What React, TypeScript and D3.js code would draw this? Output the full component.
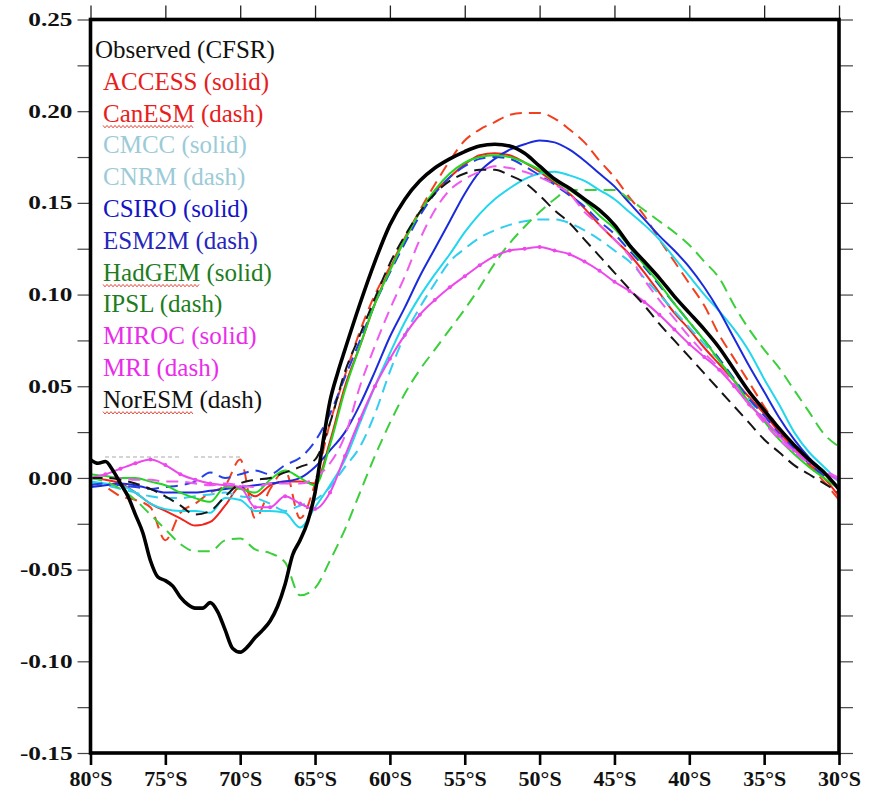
import React, { useEffect, useRef } from 'react';
import * as d3 from 'd3';

// latitude (degrees south) for the model curves
const lats = [80, 79, 78, 77, 76, 75, 74, 73, 72, 71, 70, 69, 68, 67, 66, 65, 64, 63, 62, 61, 60,
  59, 58, 57, 56, 55, 54, 53, 52, 51, 50, 49, 48, 47, 46, 45, 44, 43, 42, 41, 40,
  39, 38, 37, 36, 35, 34, 33, 32, 31, 30];

// observed curve is sampled finer over the ice edge
const obsLats = [80, 79.5, 79, 78.5, 78, 77.5, 77, 76.5, 76, 75.5, 75, 74.5, 74, 73.5, 73, 72.5, 72,
  71.5, 71, 70.5, 70, 69.5, 69, 68.5, 68, 67.5, 67, 66.5, 66, 65.5, 65, 64.5, 64, 63.5, 63,
  62, 61, 60, 59, 58, 57, 56, 55, 54, 53, 52, 51, 50, 49, 48, 47, 46, 45, 44, 43, 42, 41, 40,
  39, 38, 37, 36, 35, 34, 33, 32, 31, 30];

const observed = [0.010, 0.008, 0.009, 0.004, -0.003, -0.010, -0.020, -0.030, -0.045, -0.054, -0.056,
  -0.059, -0.065, -0.069, -0.071, -0.071, -0.068, -0.073, -0.083, -0.093, -0.095, -0.092, -0.087,
  -0.083, -0.078, -0.070, -0.058, -0.042, -0.034, -0.024, -0.008, 0.018, 0.042, 0.057, 0.070,
  0.095, 0.118, 0.138, 0.152, 0.162, 0.169, 0.174, 0.178, 0.181, 0.182, 0.181, 0.177, 0.170, 0.163,
  0.158, 0.152, 0.146, 0.138, 0.127, 0.118, 0.109, 0.099, 0.090, 0.081, 0.071, 0.059, 0.047, 0.037,
  0.027, 0.018, 0.010, 0.003, -0.006];

const access = [0.000, -0.001, -0.003, -0.008, -0.014, -0.018, -0.022, -0.026, -0.024, -0.015, -0.005,
  -0.010, -0.004, -0.002, -0.002, -0.003, 0.020, 0.050, 0.072, 0.095, 0.114, 0.130, 0.145, 0.156,
  0.164, 0.171, 0.176, 0.177, 0.176, 0.172, 0.167, 0.161, 0.155, 0.147, 0.138, 0.130, 0.122, 0.112,
  0.101, 0.090, 0.081, 0.071, 0.062, 0.053, 0.044, 0.035, 0.025, 0.016, 0.008, 0.000, -0.010];

const canesm = [-0.003, -0.005, -0.010, -0.012, -0.016, -0.034, -0.019, -0.014, -0.008, -0.004, 0.010,
  -0.022, -0.006, 0.004, -0.022, -0.003, 0.030, 0.056, 0.080, 0.100, 0.115, 0.131, 0.146, 0.160,
  0.173, 0.184, 0.190, 0.194, 0.198, 0.199, 0.199, 0.196, 0.190, 0.183, 0.173, 0.164, 0.153, 0.143,
  0.130, 0.118, 0.106, 0.094, 0.078, 0.065, 0.052, 0.039, 0.027, 0.016, 0.007, -0.002, -0.012];

const cmcc = [-0.002, -0.003, -0.004, -0.008, -0.014, -0.017, -0.018, -0.018, -0.019, -0.011, -0.012,
  -0.018, -0.018, -0.019, -0.027, -0.016, -0.004, 0.010, 0.030, 0.050, 0.068, 0.085, 0.099, 0.111,
  0.122, 0.134, 0.144, 0.152, 0.158, 0.163, 0.166, 0.167, 0.165, 0.162, 0.157, 0.152, 0.145, 0.138,
  0.130, 0.120, 0.110, 0.100, 0.091, 0.081, 0.069, 0.054, 0.040, 0.025, 0.014, 0.006, -0.002];

const cnrm = [-0.003, -0.004, -0.006, -0.008, -0.010, -0.011, -0.011, -0.010, -0.009, -0.008, -0.010,
  -0.011, -0.014, -0.018, -0.015, -0.012, -0.005, 0.006, 0.017, 0.035, 0.058, 0.078, 0.093, 0.106,
  0.118, 0.125, 0.131, 0.135, 0.138, 0.140, 0.141, 0.141, 0.139, 0.135, 0.130, 0.124, 0.118, 0.109,
  0.100, 0.091, 0.082, 0.073, 0.064, 0.053, 0.043, 0.032, 0.023, 0.015, 0.009, 0.004, -0.002];

const csiro = [-0.005, -0.004, -0.003, -0.004, -0.006, -0.008, -0.008, -0.008, -0.007, -0.006, -0.005,
  -0.004, -0.003, -0.002, 0.000, 0.006, 0.015, 0.025, 0.040, 0.058, 0.077, 0.093, 0.110, 0.125,
  0.140, 0.155, 0.167, 0.174, 0.179, 0.182, 0.184, 0.183, 0.179, 0.173, 0.166, 0.159, 0.150, 0.141,
  0.132, 0.124, 0.115, 0.104, 0.091, 0.076, 0.061, 0.047, 0.033, 0.021, 0.011, 0.003, -0.007];

const esm2m = [-0.004, -0.003, -0.004, -0.005, -0.006, -0.005, -0.004, -0.002, 0.003, 0.000, 0.002,
  0.004, 0.002, 0.007, 0.011, 0.020, 0.035, 0.055, 0.075, 0.095, 0.112, 0.128, 0.143, 0.155,
  0.164, 0.170, 0.174, 0.175, 0.174, 0.170, 0.165, 0.160, 0.154, 0.148, 0.140, 0.133, 0.124, 0.115,
  0.105, 0.095, 0.085, 0.075, 0.065, 0.054, 0.043, 0.034, 0.024, 0.016, 0.008, 0.001, -0.006];

const hadgem = [0.002, 0.001, 0.000, 0.000, -0.002, -0.004, -0.008, -0.011, -0.013, -0.005, -0.006,
  -0.008, -0.001, 0.004, 0.000, -0.004, 0.018, 0.048, 0.072, 0.095, 0.113, 0.130, 0.145, 0.157,
  0.166, 0.172, 0.175, 0.176, 0.175, 0.172, 0.168, 0.162, 0.157, 0.151, 0.143, 0.136, 0.126, 0.116,
  0.106, 0.095, 0.085, 0.075, 0.064, 0.053, 0.041, 0.031, 0.021, 0.013, 0.006, 0.000, -0.006];

const ipsl = [0.000, -0.002, -0.006, -0.012, -0.020, -0.028, -0.036, -0.040, -0.040, -0.034, -0.033,
  -0.039, -0.041, -0.046, -0.064, -0.060, -0.045, -0.028, -0.008, 0.012, 0.030, 0.046, 0.059, 0.070,
  0.081, 0.092, 0.104, 0.117, 0.128, 0.137, 0.145, 0.152, 0.157, 0.157, 0.157, 0.157, 0.152, 0.146,
  0.140, 0.134, 0.127, 0.118, 0.109, 0.094, 0.081, 0.070, 0.060, 0.048, 0.036, 0.024, 0.017];

const miroc = [0.000, 0.002, 0.005, 0.008, 0.010, 0.007, 0.002, -0.001, -0.003, -0.004, -0.005,
  -0.016, -0.016, -0.010, -0.014, -0.017, -0.008, 0.012, 0.032, 0.050, 0.065, 0.078, 0.089, 0.097,
  0.104, 0.110, 0.116, 0.121, 0.124, 0.125, 0.126, 0.124, 0.122, 0.118, 0.113, 0.107, 0.102, 0.096,
  0.089, 0.081, 0.073, 0.066, 0.059, 0.050, 0.040, 0.032, 0.023, 0.015, 0.009, 0.003, -0.001];

const mri = [0.000, 0.000, 0.000, -0.001, -0.001, -0.002, -0.002, -0.003, -0.004, -0.003, -0.004,
  -0.005, -0.003, -0.003, -0.003, 0.000, 0.008, 0.023, 0.050, 0.072, 0.092, 0.110, 0.130, 0.146,
  0.157, 0.163, 0.167, 0.170, 0.169, 0.167, 0.164, 0.160, 0.155, 0.145, 0.138, 0.130, 0.121, 0.108,
  0.097, 0.087, 0.077, 0.068, 0.060, 0.051, 0.040, 0.030, 0.021, 0.014, 0.008, 0.004, 0.000];

const noresm = [0.000, 0.000, -0.001, -0.003, -0.006, -0.010, -0.015, -0.020, -0.018, -0.010, -0.003,
  -0.001, 0.000, 0.003, 0.006, 0.010, 0.030, 0.058, 0.078, 0.098, 0.117, 0.132, 0.145, 0.155,
  0.162, 0.166, 0.168, 0.168, 0.165, 0.161, 0.154, 0.146, 0.139, 0.130, 0.121, 0.112, 0.103, 0.094,
  0.084, 0.075, 0.066, 0.057, 0.048, 0.039, 0.030, 0.021, 0.014, 0.007, 0.002, -0.003, -0.008];

const modelValues = [access, canesm, cmcc, cnrm, csiro, esm2m, hadgem, ipsl, miroc, mri, noresm];

const legendLabels = ['Observed (CFSR)', 'ACCESS (solid)', 'CanESM (dash)', 'CMCC (solid)', 'CNRM (dash)',
  'CSIRO (solid)', 'ESM2M (dash)', 'HadGEM (solid)', 'IPSL (dash)', 'MIROC (solid)', 'MRI (dash)',
  'NorESM (dash)'];

const yTicks = [-0.15, -0.125, -0.1, -0.075, -0.05, -0.025, 0, 0.025, 0.05, 0.075, 0.1, 0.125,
  0.15, 0.175, 0.2, 0.225, 0.25];
const xTicks = [80, 75, 70, 65, 60, 55, 50, 45, 40, 35, 30];

// styles per model (same order as modelValues)
const lineColors = ['#f2231a', '#f2401f', '#22d6ee', '#33cdf0', '#1b2bdc', '#2440e6', '#1fd81f',
  '#3ccf3c', '#ec48ec', '#ef5bef', '#151515'];
const lineDashed = [false, true, false, true, false, true, false, true, false, true, true];
const legendColors = ['#111111', '#e8201c', '#e8201c', '#9ccbd8', '#9ccbd8', '#1414c4', '#2626bd',
  '#1d7d1d', '#1d7d1d', '#ea2cea', '#ea2cea', '#111111'];
const squiggled = ['CanESM', 'HadGEM', 'NorESM'];

const SERIF = "'Liberation Serif'";

function App() {
  const ref = useRef<SVGSVGElement>(null);

  useEffect(() => {
    const W = 874, H = 792;
    const left = 90.5, right = 839, top = 19.5, bottom = 753;

    const svg = d3.select(ref.current);
    svg.selectAll('*').remove();

    const x = d3.scaleLinear().domain([80, 30]).range([left, right]);
    const y = d3.scaleLinear().domain([-0.15, 0.25]).range([bottom, top]);

    svg.append('rect').attr('width', W).attr('height', H).attr('fill', '#fff');

    svg.append('defs').append('clipPath').attr('id', 'plotclip')
      .append('rect').attr('x', left).attr('y', top)
      .attr('width', right - left).attr('height', bottom - top);

    const isMajor = (d: number) => Math.abs(d * 20 - Math.round(d * 20)) < 1e-6;

    // left axis with labels (bold serif, widened to match the original face)
    const gl = svg.append('g').attr('transform', `translate(${left},0)`)
      .call(d3.axisLeft(y).tickValues(yTicks).tickSize(13).tickPadding(5)
        .tickFormat((d: any) => isMajor(d) ? (+d).toFixed(2) : ''));
    gl.attr('font-family', null).attr('font-size', null);
    gl.select('.domain').remove();
    gl.selectAll('line').attr('stroke', '#444').attr('stroke-width', 1.2);
    gl.selectAll('text')
      .style('font-family', SERIF).style('font-weight', 'bold')
      .style('font-size', '19px').attr('fill', '#111')
      .each(function () {
        const node = this as SVGTextElement;
        if (!node.textContent) return;
        const w = node.getComputedTextLength() * 1.33;
        d3.select(node)
          .attr('text-anchor', 'start')
          .attr('x', -18 - w)
          .attr('textLength', w)
          .attr('lengthAdjust', 'spacingAndGlyphs');
      });

    const gr = svg.append('g').attr('transform', `translate(${right},0)`)
      .call(d3.axisRight(y).tickValues(yTicks).tickSize(14).tickFormat(() => ''));
    gr.select('.domain').remove();
    gr.selectAll('line').attr('stroke', '#444').attr('stroke-width', 1.2);

    const gt = svg.append('g').attr('transform', `translate(0,${top})`)
      .call(d3.axisTop(x).tickValues(xTicks).tickSize(14).tickFormat(() => ''));
    gt.select('.domain').remove();
    gt.selectAll('line').attr('stroke', '#222').attr('stroke-width', 1.3);

    const gb = svg.append('g').attr('transform', `translate(0,${bottom})`)
      .call(d3.axisBottom(x).tickValues(xTicks).tickSize(12).tickFormat((d: any) => `${d}°S`));
    gb.attr('font-family', null).attr('font-size', null);
    gb.select('.domain').remove();
    gb.selectAll('line').attr('stroke', '#000').attr('stroke-width', 2.6);
    gb.selectAll('text').attr('y', 33).attr('dy', null)
      .style('font-family', SERIF).style('font-weight', 'bold')
      .style('font-size', '22px').attr('fill', '#111');

    const plot = svg.append('g').attr('clip-path', 'url(#plotclip)');

    // faint remnant of hidden text under the legend
    plot.append('line').attr('x1', 105).attr('x2', 180).attr('y1', 457).attr('y2', 457)
      .attr('stroke', '#aaa').attr('stroke-width', 1.2).attr('stroke-dasharray', '4,3');
    plot.append('line').attr('x1', 194).attr('x2', 243).attr('y1', 457).attr('y2', 457)
      .attr('stroke', '#aaa').attr('stroke-width', 1.2).attr('stroke-dasharray', '4,3');

    const line = d3.line<number>()
      .x((d, i) => x(lats[i]))
      .y((d) => y(d))
      .curve(d3.curveMonotoneX);

    modelValues.forEach((vals, k) => {
      plot.append('path')
        .datum(vals)
        .attr('d', line)
        .attr('fill', 'none')
        .attr('stroke', lineColors[k])
        .attr('stroke-width', 2)
        .attr('stroke-linejoin', 'round')
        .attr('stroke-dasharray', lineDashed[k] ? '12,7' : null);
    });

    // MIROC carries small markers
    plot.selectAll('circle.miroc')
      .data(miroc)
      .enter().append('circle')
      .attr('class', 'miroc')
      .attr('cx', (d, i) => x(lats[i]))
      .attr('cy', (d) => y(d))
      .attr('r', 2)
      .attr('fill', lineColors[8]);

    const obsLine = d3.line<number>()
      .x((d, i) => x(obsLats[i]))
      .y((d) => y(d))
      .curve(d3.curveMonotoneX);

    plot.append('path')
      .datum(observed)
      .attr('d', obsLine)
      .attr('fill', 'none')
      .attr('stroke', '#000')
      .attr('stroke-width', 3.6)
      .attr('stroke-linejoin', 'round');

    // frame
    svg.append('rect')
      .attr('x', left).attr('y', top)
      .attr('width', right - left).attr('height', bottom - top)
      .attr('fill', 'none').attr('stroke', '#000').attr('stroke-width', 3.6);

    // legend
    const leg = svg.append('g');

    legendLabels.forEach((lab, i) => {
      const tx = i === 0 ? 95 : 103;
      const ty = 58 + i * 31.8;
      const t = leg.append('text')
        .attr('x', tx).attr('y', ty)
        .style('font-family', SERIF)
        .style('font-size', '25px')
        .attr('fill', legendColors[i])
        .text(lab);
      const name = lab.split(' ')[0];
      if (squiggled.includes(name)) {
        const node = t.node() as SVGTextElement;
        const w = node.getSubStringLength(0, name.length);
        const pts: [number, number][] = [];
        for (let px = 0; px <= w; px += 2) {
          pts.push([tx + px, ty + 5 + ((px / 2) % 2 === 0 ? -1.2 : 1.2)]);
        }
        leg.append('path')
          .attr('d', d3.line()(pts))
          .attr('fill', 'none')
          .attr('stroke', '#e84a3c')
          .attr('stroke-width', 1);
      }
    });
  }, []);

  return (
    <svg ref={ref} width={874} height={792}
      style={{ position: 'absolute', left: 0, top: 0, display: 'block' }} />
  );
}

export default App;
